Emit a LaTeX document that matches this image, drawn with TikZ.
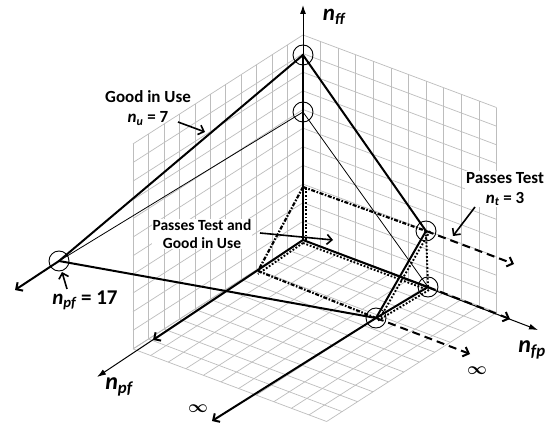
\documentclass[tikz,border=0pt]{standalone}
\usepackage{amsmath}
\usepackage{fontspec}
\setmainfont{Carlito}
\usetikzlibrary{arrows.meta}
\newcommand{\nlab}[1]{\textbf{\textit{n\textsubscript{#1}}}}
\begin{document}
\begin{tikzpicture}[x=1pt,y=-1pt,
  gridln/.style={draw=black!26, line width=0.7pt},
  thickln/.style={line width=2pt, line cap=round},
  thinln/.style={line width=0.8pt},
  axisln/.style={line width=1pt, -{Latex[length=9pt,width=6pt]}},
  openarr/.style={-{Straight Barb[length=5pt,width=10pt]}},
  dashedln/.style={line width=2pt, dash pattern=on 8pt off 5pt},
  dotln/.style={line width=1.9pt, dash pattern=on 1.8pt off 1.8pt},
  ddln/.style={line width=2.2pt, dash pattern=on 4pt off 1.6pt on 1.6pt off 1.6pt},
  ring/.style={circle, draw, line width=0.9pt, minimum size=20pt, inner sep=0pt},
  lbl/.style={font=\fontsize{17}{20}\selectfont\bfseries, align=center, inner sep=1pt},
  lblarr/.style={line width=1.6pt, openarr},
]
\useasboundingbox (0,0) rectangle (557,430);
\fill[white] (0,0) rectangle (557,430);
% grid
\def\ux{-15.45}\def\uy{9.9}\def\vx{17.6}\def\vy{6.6}\def\wy{-18.64}
\foreach \i in {0,...,11} {
  \draw[gridln] ({303+\i*\ux},{240+\i*\uy}) -- ++(0,{11*\wy});
  \draw[gridln] (303,{240+\i*\wy}) -- ++({11*\ux},{11*\uy});
  \draw[gridln] ({303+\i*\vx},{240+\i*\vy}) -- ++(0,{11*\wy});
  \draw[gridln] (303,{240+\i*\wy}) -- ++({11*\vx},{11*\vy});
  \draw[gridln] ({303+\i*\ux},{240+\i*\uy}) -- ++({11*\vx},{11*\vy});
  \draw[gridln] ({303+\i*\vx},{240+\i*\vy}) -- ++({11*\ux},{11*\uy});
}
% key points
\coordinate (O) at (303,240);
\coordinate (P) at (303,187);
\coordinate (Q) at (258,271);
\node[ring] (A) at (303,55) {};
\node[ring] (B) at (303,112) {};
\node[ring] (C) at (59,261) {};
\node[ring] (D) at (376,318) {};
\node[ring] (E) at (426,231) {};
\node[ring] (F) at (428,287) {};
% axis ends
\coordinate (ffEnd) at (303,5);
\coordinate (pfEnd) at (97,377);
\coordinate (fpEnd) at (538,330);
\coordinate (pfThick) at (153,340);
\coordinate (cEnd) at (15,290);
\coordinate (dEnd) at (212,421);
\coordinate (eDash) at (514,264);
\coordinate (fDash) at (510,319);
\coordinate (dDash) at (470,354);
% thin axes
\draw[axisln] (O) -- (ffEnd);
\draw[axisln] (O) -- (pfEnd);
\draw[axisln] (O) -- (fpEnd);
% thick axes parts
\draw[thickln] (O) -- (A.center);
\draw[thickln, openarr] (O) -- (pfThick);
\draw[thickln] (O) -- (F.center);
% prism
\draw[dotln] ([xshift=3pt]O) -- ([xshift=3pt]P);
\draw[dotln] ([yshift=-3pt]O) -- ([yshift=-3pt]Q);
\draw[dotln] ([yshift=-3pt]O) -- ([yshift=-3pt]F.center);
\draw[dotln] (E.center) -- (F.center);
\draw[dotln] ([shift={(1pt,-3pt)}]F.center) -- ([shift={(1pt,-3pt)}]D.center);
\draw[dotln] ([xshift=4pt]E.center) -- ([xshift=4pt]D.center);
\draw[ddln] (P) -- (E.center);
\draw[ddln] (P) -- (Q);
\draw[ddln] (Q) -- (D.center);
% main lines
\draw[thinln] (B.center) -- (C.center);
\draw[thinln] (B.center) -- (F.center);
\draw[thickln] (A.center) -- (C.center);
\draw[thickln, openarr] (C.center) -- (cEnd);
\draw[thickln] (A.center) -- (E.center);
\draw[thickln] (C.center) -- (D.center);
\draw[thickln] (E.center) -- (D.center);
\draw[thickln] (F.center) -- (D.center);
\draw[thickln, openarr] (D.center) -- (dEnd);
\draw[dashedln, openarr] (E.center) -- (eDash);
\draw[dashedln, openarr] (F.center) -- (fDash);
\draw[dashedln, openarr] (D.center) -- (dDash);
% labels
\node[font=\fontsize{23}{24}\selectfont] (lff) at (334,17) {\nlab{ff}};
\node[font=\fontsize{24}{24}\selectfont] (lpf) at (119,387) {\nlab{pf}};
\node[font=\fontsize{24}{24}\selectfont] (lfp) at (532,350) {\nlab{fp}};
\node[font=\fontsize{16}{16}\selectfont] (inf1) at (198,409) {$\boldsymbol{\infty}$};
\node[font=\fontsize{16}{16}\selectfont] (inf2) at (477,371) {$\boldsymbol{\infty}$};
\node[lbl] (gu) at (148,108) {Good in Use\\\nlab{u} = 7};
\coordinate (guS) at (178,122);
\coordinate (guT) at (205,132);
\draw[lblarr] (guS) -- (guT);
\node[lbl, fill=white] (pt) at (505,189) {Passes Test\\\nlab{t} = 3};
\coordinate (ptS) at (475,207);
\coordinate (ptT) at (453,236);
\draw[lblarr] (ptS) -- (ptT);
\node[lbl, font=\fontsize{15.5}{18}\selectfont\bfseries, fill=white] (ptg) at (202,234) {Passes Test and\\Good in Use};
\coordinate (ptgS) at (260,233);
\coordinate (ptgT) at (333,240);
\draw[lblarr] (ptgS) -- (ptgT);
\node[font=\fontsize{21}{22}\selectfont\bfseries] (l17) at (85,300) {\nlab{pf} = 17};
\coordinate (l17S) at (67,289);
\coordinate (l17T) at (62,272);
\draw[lblarr] (l17S) -- (l17T);
\end{tikzpicture}
\end{document}
